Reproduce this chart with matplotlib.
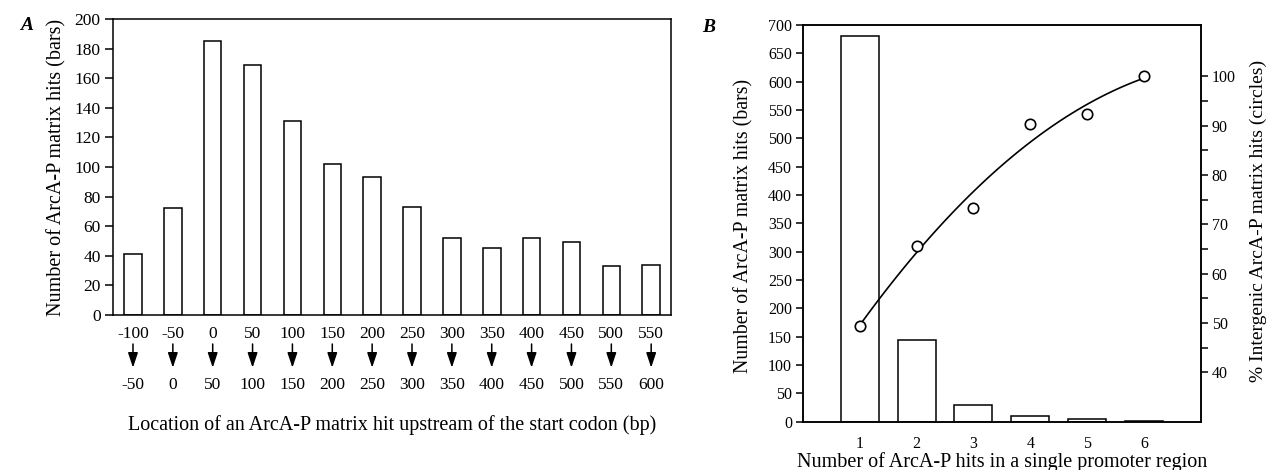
import numpy as np
import matplotlib
matplotlib.use("Agg")
import matplotlib.pyplot as plt
from matplotlib.ticker import MultipleLocator
import matplotlib.transforms as mtransforms

plt.rcParams['font.family'] = ['Liberation Serif', 'DejaVu Serif']
plt.rcParams['axes.linewidth'] = 1.1

# -- Panel A data --
loc_start = ['-100', '-50', '0', '50', '100', '150', '200', '250', '300', '350', '400', '450', '500', '550']
loc_end = ['-50', '0', '50', '100', '150', '200', '250', '300', '350', '400', '450', '500', '550', '600']
hits_by_loc = [41, 72, 185, 169, 131, 102, 93, 73, 52, 45, 52, 49, 33, 34]

# -- Panel B data --
hits_per_promoter = [1, 2, 3, 4, 5, 6]
n_hits = [680, 145, 30, 10, 4, 2]
pct_intergenic = [49.4, 65.6, 73.4, 90.3, 92.4, 100.0]

fig = plt.figure(figsize=(12.66, 4.70), dpi=100)

# -- Panel A --
axA = fig.add_axes([0.0893, 0.3298, 0.4408, 0.6298])
xA = np.arange(len(hits_by_loc))
axA.bar(xA, hits_by_loc, width=0.44, color='white', edgecolor='black', linewidth=1.1)
axA.set_xlim(-0.5, len(hits_by_loc) - 0.5)
axA.set_ylim(0, 200)
axA.yaxis.set_major_locator(MultipleLocator(20))
axA.set_xticks(xA)
axA.set_xticklabels(loc_start, fontsize=12.5)
axA.tick_params(axis='x', length=0, pad=8)
axA.tick_params(axis='y', direction='out', length=6, width=1.1, labelsize=12.5, pad=3)

# second row of x labels with arrows (bin end)
trA = mtransforms.blended_transform_factory(axA.transData, axA.transAxes)
for xi, lab in zip(xA, loc_end):
    axA.annotate('', xy=(xi, -0.178), xytext=(xi, -0.098), xycoords=trA, textcoords=trA,
                 arrowprops=dict(arrowstyle='-|>,head_length=0.9,head_width=0.3',
                                 color='black', lw=1.1, shrinkA=0, shrinkB=0),
                 annotation_clip=False)
    axA.text(xi, -0.236, lab, transform=trA, ha='center', va='center', fontsize=12.5)

axA.set_ylabel('Number of ArcA-P matrix hits (bars)', fontsize=14.5, ha='center', va='center')
axA.yaxis.set_label_coords(-0.100, 0.497)
axA.set_xlabel('Location of an ArcA-P matrix hit upstream of the start codon (bp)',
               fontsize=14.5, ha='center', va='center')
axA.xaxis.set_label_coords(0.5, -0.372)
fig.text(0.016, 0.946, 'A', fontsize=14, fontweight='bold', fontstyle='italic', va='center')

# -- Panel B --
axB = fig.add_axes([0.6343, 0.1028, 0.3141, 0.8440])
axB.bar(hits_per_promoter, n_hits, width=0.67, color='white', edgecolor='black', linewidth=1.1)
axB.set_xlim(0, 7)
axB.set_ylim(0, 700)
axB.yaxis.set_major_locator(MultipleLocator(50))
axB.set_xticks(hits_per_promoter)
axB.tick_params(axis='x', length=0, pad=10, labelsize=11.5)
axB.tick_params(axis='y', direction='out', length=5, width=1.1, labelsize=11.5, pad=3)
axB.set_ylabel('Number of ArcA-P matrix hits (bars)', fontsize=14.3, ha='center', va='center')
axB.yaxis.set_label_coords(-0.148, 0.493)
axB.set_xlabel('Number of ArcA-P hits in a single promoter region', fontsize=14.5,
               ha='center', va='center')
axB.xaxis.set_label_coords(0.5, -0.1005)

axB2 = axB.twinx()
axB2.set_ylim(30, 110.4)
axB2.set_yticks(np.arange(40, 101, 10))
axB2.set_yticks(np.arange(45, 100, 10), minor=True)
axB2.tick_params(axis='y', which='major', direction='out', length=5, width=1.1, labelsize=11.5, pad=3)
axB2.tick_params(axis='y', which='minor', direction='out', length=5, width=1.1)

# quadratic trend line through the circles
coef = np.polyfit(hits_per_promoter, pct_intergenic, 2)
xfit = np.linspace(1, 6, 100)
axB2.plot(xfit, np.polyval(coef, xfit), color='black', lw=1.2)
axB2.plot(hits_per_promoter, pct_intergenic, 'o', ms=7.5, mfc='white', mec='black', mew=1.2)
axB2.set_ylabel('% Intergenic ArcA-P matrix hits (circles)', fontsize=14, ha='center', va='center')
axB2.yaxis.set_label_coords(1.145, 0.506)
fig.text(0.555, 0.942, 'B', fontsize=14, fontweight='bold', fontstyle='italic', va='center')

fig.savefig('out.png', dpi=100)
